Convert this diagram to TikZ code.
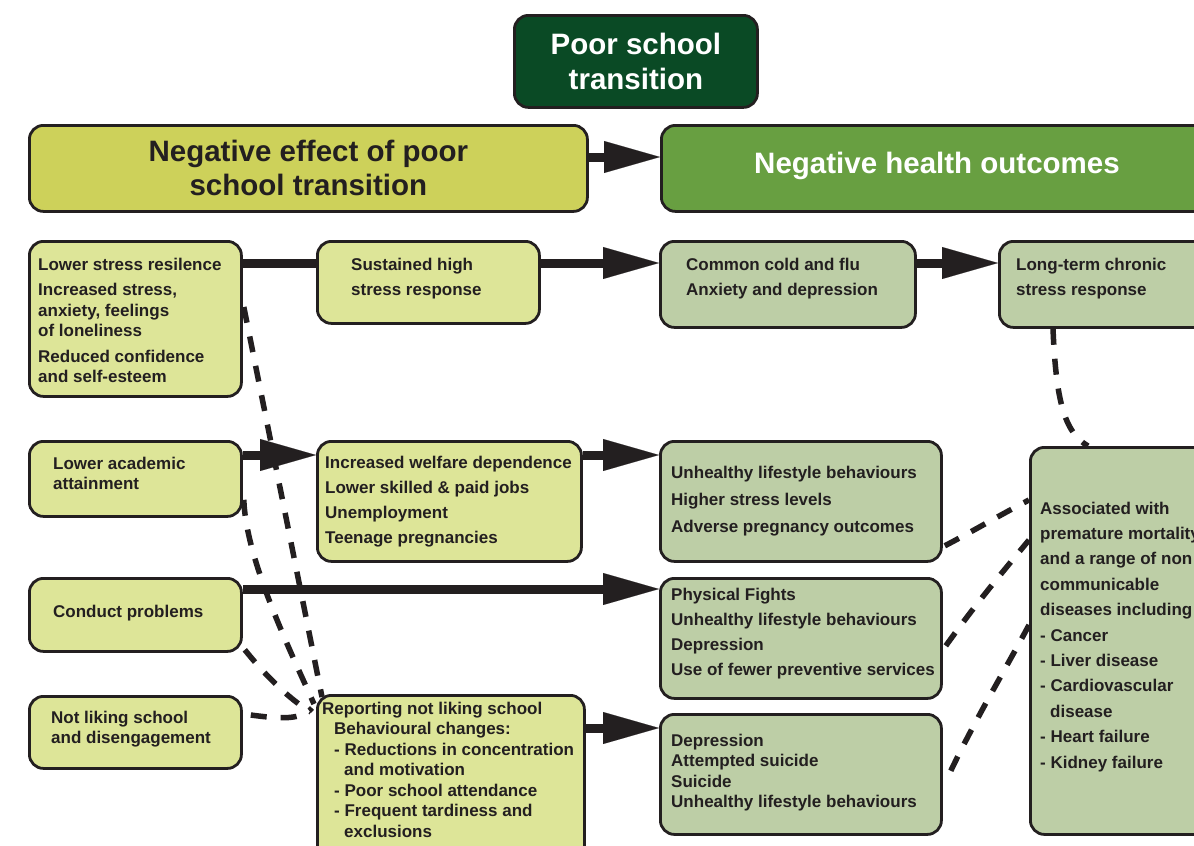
\documentclass[tikz,border=0pt]{standalone}
\usepackage{fontspec}
\setmainfont{Liberation Sans}
\usetikzlibrary{arrows.meta,calc}
\definecolor{lc}{HTML}{231F20}
\definecolor{tgreen}{HTML}{0A4A25}
\definecolor{hyel}{HTML}{CDD15A}
\definecolor{hgrn}{HTML}{689F41}
\definecolor{lyel}{HTML}{DDE598}
\definecolor{lgrn}{HTML}{BDCEA6}
\newcommand{\tl}[1]{\begin{tabular}[t]{@{}l@{}}#1\end{tabular}}
\begin{document}
\begin{tikzpicture}[x=1bp,y=-1bp,
  box/.style={draw=lc,line width=2.8bp,rounded corners=14bp,inner sep=0pt,anchor=north west},
  ybox/.style={box,fill=lyel},
  gbox/.style={box,fill=lgrn},
  htxt/.style={font=\fontsize{29.5bp}{34bp}\selectfont\bfseries},
  txt/.style={inner sep=0pt,anchor=base west,text=lc,font=\fontsize{17bp}{20.5bp}\selectfont\bfseries},
  arr/.style={draw=lc,line width=9bp,-{Triangle[length=56bp,width=32bp,line width=0.1bp]}},
  bar/.style={draw=lc,line width=9bp},
  dsh/.style={draw=lc,line width=5.5bp,dash pattern=on 16bp off 14bp}]
\useasboundingbox (0,0) rectangle (1194,846);
\clip (0,0) rectangle (1194,846);
\fill[white] (0,0) rectangle (1194,846);

% title and headers
\node[box,fill=tgreen,minimum width=243bp,minimum height=92bp,htxt,text=white,align=center,
  font=\fontsize{29.5bp}{35bp}\selectfont\bfseries] (t) at (513,14) {Poor school\\transition};
\node[box,fill=hyel,minimum width=558bp,minimum height=86bp,htxt,text=lc,align=center] (hl) at (28,124) {Negative effect of poor\\school transition};
\node[box,fill=hgrn,minimum width=560bp,minimum height=86bp] (hr) at (660,124) {};
\node[htxt,text=white,inner sep=0pt,anchor=base west] (hrt) at (754,173.5) {Negative health outcomes};

% boxes
\node[ybox,minimum width=212bp,minimum height=155bp] (a1) at (28,240) {};
\node[ybox,minimum width=222bp,minimum height=82bp] (a2) at (316,240) {};
\node[gbox,minimum width=255bp,minimum height=86bp] (b1) at (659,240) {};
\node[gbox,minimum width=220bp,minimum height=86bp] (c1) at (998,240) {};
\node[ybox,minimum width=212bp,minimum height=75bp] (a3) at (28,440) {};
\node[ybox,minimum width=264bp,minimum height=120bp] (a4) at (316,440) {};
\node[gbox,minimum width=281bp,minimum height=120bp] (b2) at (659,440) {};
\node[ybox,minimum width=212bp,minimum height=73bp] (a5) at (28,577) {};
\node[gbox,minimum width=281bp,minimum height=120bp] (b3) at (659,577) {};
\node[ybox,minimum width=212bp,minimum height=72bp] (a6) at (28,695) {};
\node[ybox,minimum width=267bp,minimum height=170bp] (a7) at (316,694) {};
\node[gbox,minimum width=281bp,minimum height=120bp] (b4) at (659,713) {};
\node[gbox,minimum width=190bp,minimum height=387bp] (d) at (1029,446) {};

% texts
\node[txt] (a1t) at (38,270) {\tl{Lower stress resilence\\[5bp]Increased stress,\\anxiety, feelings\\of loneliness\\[5bp]Reduced confidence\\and self-esteem}};
\node[txt] (a2t) at (351,270) {\tl{Sustained high\\[4.5bp]stress response}};
\node[txt] (b1t) at (686,270) {\tl{Common cold and flu\\[4.5bp]Anxiety and depression}};
\node[txt] (c1t) at (1016,270) {\tl{Long-term chronic\\[4.5bp]stress response}};
\node[txt] (a3t) at (53,469) {\tl{Lower academic\\attainment}};
\node[txt] (a4t) at (325,468) {\tl{Increased welfare dependence\\[4.5bp]Lower skilled \& paid jobs\\[4.5bp]Unemployment\\[4.5bp]Teenage pregnancies}};
\node[txt] (b2t) at (671,478) {\tl{Unhealthy lifestyle behaviours\\[6.5bp]Higher stress levels\\[6.5bp]Adverse pregnancy outcomes}};
\node[txt] (a5t) at (53,617) {Conduct problems};
\node[txt] (b3t) at (671,600) {\tl{Physical Fights\\[4.8bp]Unhealthy lifestyle behaviours\\[4.8bp]Depression\\[4.8bp]Use of fewer preventive services}};
\node[txt] (a6t) at (51,723) {\tl{Not liking school\\and disengagement}};
\node[txt] (a7t) at (322,714) {\tl{Reporting not liking school\\
  \hspace*{12bp}Behavioural changes:\\
  \hspace*{12bp}- Reductions in concentration\\
  \hspace*{22bp}and motivation\\
  \hspace*{12bp}- Poor school attendance\\
  \hspace*{12bp}- Frequent tardiness and\\
  \hspace*{22bp}exclusions}};
\node[txt] (b4t) at (671,746) {\tl{Depression\\Attempted suicide\\Suicide\\Unhealthy lifestyle behaviours}};
\node[txt] (dt) at (1040,514) {\tl{Associated with\\[4.9bp]premature mortality\\[4.9bp]and a range of non\\[4.9bp]communicable\\[4.9bp]diseases including\\[4.9bp]- Cancer\\[4.9bp]- Liver disease\\[4.9bp]- Cardiovascular\\[4.9bp]\hspace*{10bp}disease\\[4.9bp]- Heart failure\\[4.9bp]- Kidney failure}};

% solid arrows
\draw[arr] (hl.east |- 0,157) -- (hr.west |- 0,157);
\draw[bar] (a1.east |- 0,263) -- (a2.west |- 0,263);
\draw[arr] (a2.east |- 0,263) -- (b1.west |- 0,263);
\draw[arr] (b1.east |- 0,263) -- (c1.west |- 0,263);
\draw[arr] (a3.east |- 0,455) -- (a4.west |- 0,455);
\draw[arr] (a4.east |- 0,455) -- (b2.west |- 0,455);
\draw[arr] (a5.east |- 0,589) -- (b3.west |- 0,589);
\draw[arr] (a7.east |- 0,728) -- (b4.west |- 0,728);

% dashed connectors, left
\draw[dsh] ($(a1.north east)+(1,67)$) -- ($(a7.north west)+(6,3)$);
\draw[dsh] ($(a3.south east)+(1,-18)$) .. controls (246,560) and (290,650) .. ($(a7.north west)+(-2,10)$);
\draw[dsh] ($(a5.south east)+(2,-3)$) .. controls (265,675) and (290,700) .. ($(a7.north west)+(-5,18)$);
\draw[dsh] ($(a6.north east)+(8,20)$) .. controls (280,719) and (302,720) .. ($(a7.north west)+(-4,14)$);

% dashed connectors, right
\draw[dsh] ($(c1.south west)+(55,0)$) .. controls (1056,400) and (1064,432) .. ($(d.north west)+(59,0)$);
\draw[dsh] ($(b2.south east)+(2,-17)$) .. controls (975,530) and (1000,515) .. ($(d.north west)+(0,54)$);
\draw[dsh] ($(b3.south east)+(3,-54)$) .. controls (975,605) and (1000,575) .. ($(d.north west)+(0,94)$);
\draw[dsh] ($(b4.south east)+(8,-65)$) .. controls (975,720) and (1005,670) .. ($(d.north west)+(0,179)$);
\end{tikzpicture}
\end{document}
